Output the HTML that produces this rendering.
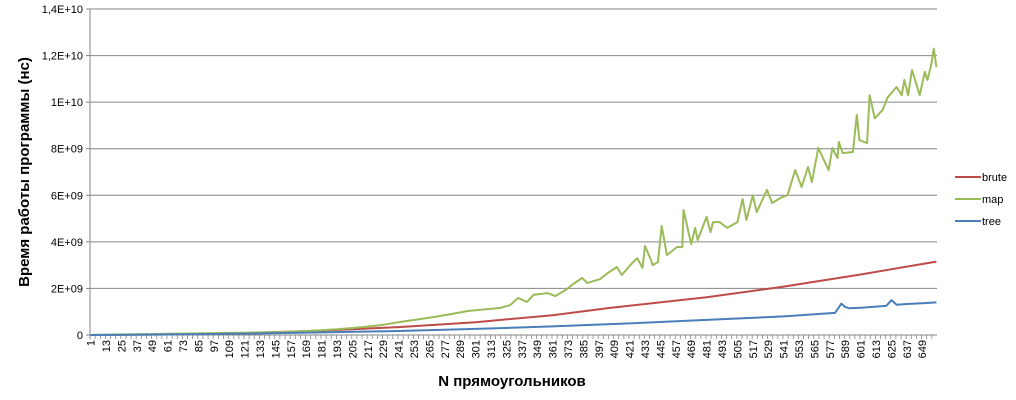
<!DOCTYPE html>
<html><head><meta charset="utf-8">
<style>
html,body{margin:0;padding:0;background:#fff;}
svg{display:block;font-family:"Liberation Sans",sans-serif;}
</style></head>
<body>
<svg id="chart" width="1016" height="400" viewBox="0 0 1016 400">
<g id="grid"></g>
<g id="yticks"></g>
<g id="xticks"></g>
<g id="series"></g>
<text x="29" y="172" transform="rotate(-90 29 172)" text-anchor="middle" font-size="15" font-weight="bold">Время работы программы (нс)</text>
<text x="512" y="386" text-anchor="middle" font-size="15" font-weight="bold">N прямоугольников</text>
<g>
 <g><line x1="955" y1="177" x2="981" y2="177" stroke="#be4b48" stroke-width="2"/><text x="982" y="181" font-size="11">brute</text></g>
 <g><line x1="955" y1="199" x2="981" y2="199" stroke="#9bbb59" stroke-width="2"/><text x="982" y="203" font-size="11">map</text></g>
 <g><line x1="955" y1="221" x2="981" y2="221" stroke="#4a7ebb" stroke-width="2"/><text x="982" y="225" font-size="11">tree</text></g>
</g>
</svg>
<script>
// data (values in units of 1E9 ns)
const mapN = [1,13,25,37,49,61,73,85,97,109,121,133,145,157,169,181,193,205,217,229,242,255,268,282,295,308,320,328,334,341,346,357,363,371,377,384,388,398,404,411,415,423,427,431,433,437,439,443,446,450,458,462,463,469,472,474,481,484,486,491,497,505,509,512,517,520,528,532,540,544,550,555,560,563,568,576,579,583,584,587,595,598,600,606,608,612,618,622,629,633,635,638,641,647,651,653,656,658,660];
const mapV = [0,0.01,0.02,0.03,0.04,0.05,0.06,0.07,0.08,0.09,0.1,0.11,0.12,0.14,0.17,0.2,0.25,0.3,0.36,0.44,0.56,0.66,0.77,0.9,1.03,1.1,1.16,1.29,1.59,1.42,1.72,1.8,1.67,1.93,2.19,2.45,2.23,2.4,2.66,2.92,2.58,3.09,3.3,2.88,3.82,3.3,3.0,3.13,4.68,3.43,3.78,3.78,5.37,3.9,4.6,4.08,5.07,4.42,4.85,4.85,4.6,4.85,5.84,4.94,6.0,5.28,6.23,5.67,5.93,6.0,7.08,6.36,7.21,6.57,8.03,7.08,8.03,7.6,8.29,7.81,7.86,9.45,8.37,8.24,10.3,9.3,9.66,10.2,10.65,10.3,10.95,10.3,11.38,10.3,11.3,10.95,11.6,12.3,11.5];
const bruteN = [1,61,121,181,241,301,361,405,481,541,601,660];
const bruteV = [0,0.02,0.08,0.19,0.34,0.55,0.85,1.16,1.62,2.08,2.6,3.15];
const treeN = [1,61,121,181,241,301,361,421,481,541,581,586,589,592,601,621,625,629,637,649,660];
const treeV = [0,0.02,0.06,0.11,0.17,0.26,0.37,0.5,0.65,0.8,0.95,1.35,1.2,1.15,1.17,1.25,1.5,1.3,1.33,1.36,1.4];
const yTicks = [0,2,4,6,8,10,12,14];
const yLabels = ["0","2E+09","4E+09","6E+09","8E+09","1E+10","1,2E+10","1,4E+10"];
const nCats = 660;

const NS="http://www.w3.org/2000/svg";
const X0=90, X1=937, Y0=335, Y1=9;
const xs = n => X0 + (n-0.5)*(X1-X0)/nCats;
const ys = v => Y0 - v*(Y0-Y1)/14;
function mk(t,a,p){const e=document.createElementNS(NS,t);for(const k in a)e.setAttribute(k,a[k]);p.appendChild(e);return e;}
const grid=document.getElementById('grid'), yt=document.getElementById('yticks'), xt=document.getElementById('xticks'), ser=document.getElementById('series');
yTicks.forEach((v,i)=>{
 const l=mk('line',{x1:X0,x2:X1,y1:ys(v),y2:ys(v),stroke:'#868686','stroke-width':1},grid);
 
 
 mk('line',{x1:X0-4,x2:X0,y1:ys(v),y2:ys(v),stroke:'#868686'},yt);
 const t=mk('text',{x:X0-7,y:ys(v)+4,'text-anchor':'end','font-size':11},yt);
 t.textContent=yLabels[i];
 
 
});
mk('line',{x1:X0,x2:X0,y1:Y1,y2:Y0+4,stroke:'#868686'},grid);
for(let n=1;n<=nCats;n+=4){mk('line',{x1:xs(n)-0.65,x2:xs(n)-0.65,y1:Y0,y2:Y0+4,stroke:'#868686','stroke-width':0.8},xt);}
for(let n=1;n<=nCats;n+=12){
 const x=xs(n)+4, y=Y0+5;
 const t=mk('text',{x:x,y:y,transform:`rotate(-90 ${x} ${y})`,'text-anchor':'end','font-size':11},xt);
 t.textContent=n;
 
 
}
function line(N,V,color,name){
 const p=mk('polyline',{points:N.map((n,i)=>xs(n).toFixed(1)+','+ys(V[i]).toFixed(1)).join(' '),fill:'none',stroke:color,'stroke-width':2,'stroke-linejoin':'round'},ser);
 
 
}
line(bruteN,bruteV,'#be4b48','brute-line');
line(mapN,mapV,'#9bbb59','map-line');
line(treeN,treeV,'#4a7ebb','tree-line');
</script>
</body></html>
